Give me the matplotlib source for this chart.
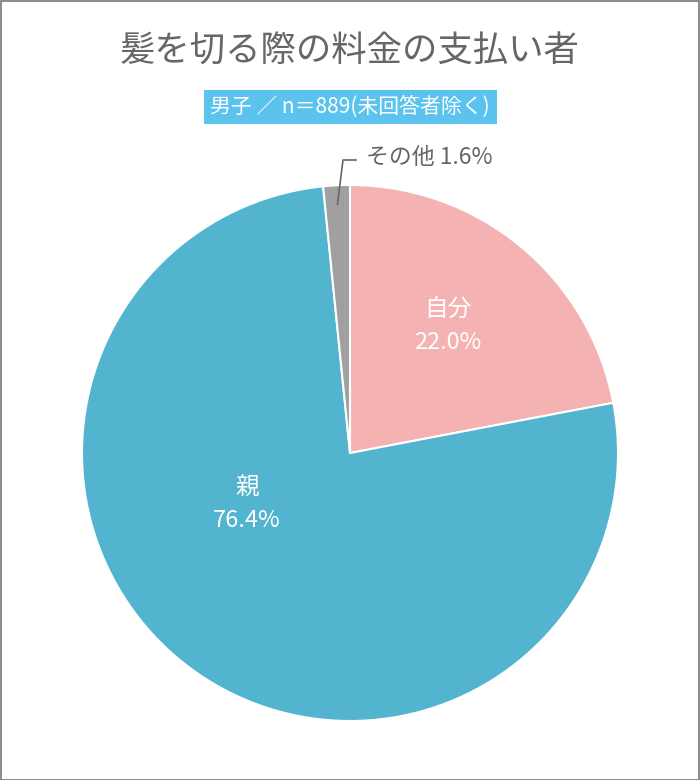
import numpy as np
import matplotlib
matplotlib.use("Agg")
import matplotlib.pyplot as plt
from matplotlib.patches import Rectangle

plt.rcParams['font.family'] = ['Noto Sans CJK JP', 'DejaVu Sans']

# data
labels = ['自分', '親', 'その他']
values = [22.0, 76.4, 1.6]
colors = ['#F5B2B3', '#52B4CE', '#A0A0A0']
title = '髪を切る際の料金の支払い者'
subtitle = '男子 ／ n＝889(未回答者除く)'

W, H = 700, 780
fig = plt.figure(figsize=(W / 100, H / 100), dpi=100)
ax = fig.add_axes([0, 0, 1, 1])

# outer frame
ax.add_patch(Rectangle((0.5, 0.5), W - 1.5, H - 1.5, fill=False,
                       edgecolor='#777777', linewidth=1.2))

cx, cy, r = 350, H - 453, 268
wedges, _ = ax.pie(values, colors=colors, startangle=90, counterclock=False,
                   center=(cx, cy), radius=r, frame=True,
                   wedgeprops=dict(edgecolor='white', linewidth=1.5))
ax.set_xlim(0, W)
ax.set_ylim(0, H)
ax.axis('off')

# labels inside
ax.text(448, H - 326, f'{labels[0]}\n{values[0]:.1f}%', ha='center', va='center',
        color='white', fontsize=17, linespacing=1.6)
ax.text(247, H - 504, f'{labels[1]}\n{values[1]:.1f}%', ha='center', va='center',
        color='white', fontsize=17, linespacing=1.6)

# leader line for small slice
w = wedges[2]
mid = np.deg2rad((w.theta1 + w.theta2) / 2)
px, py = cx + 0.93 * r * np.cos(mid), cy + 0.93 * r * np.sin(mid)
ax.plot([px, 343, 356], [py, H - 160, H - 160], color='#666666', linewidth=1.2)
ax.text(366, H - 158, f'{labels[2]} {values[2]:.1f}%', ha='left', va='center',
        color='#666666', fontsize=16.5)

# title and subtitle
ax.text(W / 2, H - 52, title, ha='center', va='center', color='#666666', fontsize=25.5)
ax.add_patch(Rectangle((204, H - 124), 293, 34, facecolor='#5BC3EE', edgecolor='none'))
ax.text(350, H - 107, subtitle, ha='center', va='center', color='white', fontsize=15)

fig.savefig('out.png', dpi=100, facecolor='white')
